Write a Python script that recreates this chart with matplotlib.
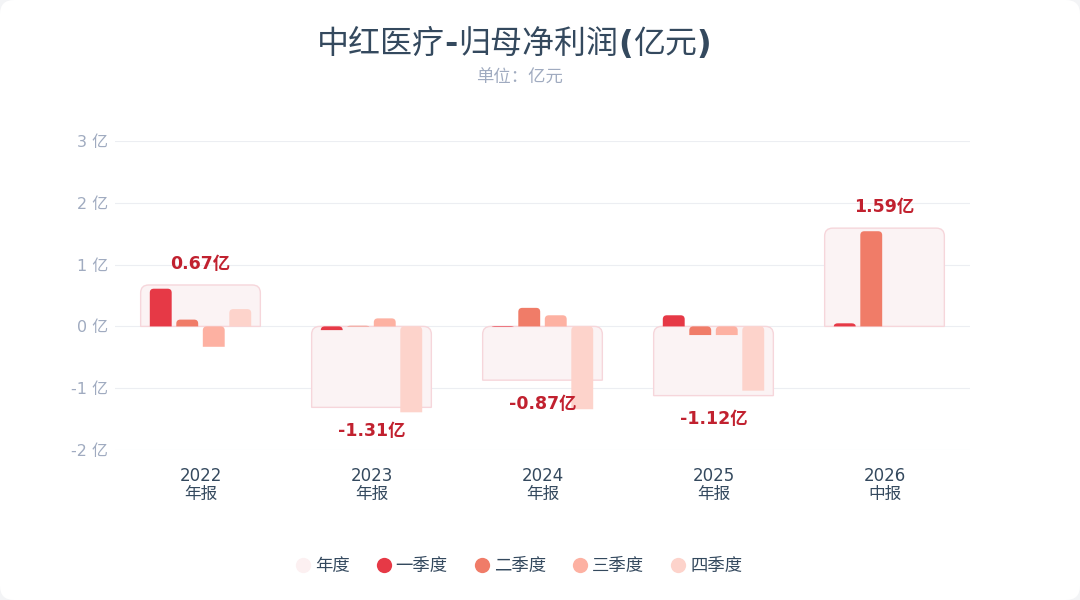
import matplotlib
matplotlib.use("Agg")
import matplotlib.pyplot as plt
import matplotlib.patches as mpatches
from matplotlib.path import Path
from matplotlib.lines import Line2D

plt.rcParams['font.family'] = ['DejaVu Sans', 'Noto Sans CJK SC']

# data (亿元)
years = ["2022", "2023", "2024", "2025", "2026"]
periods = ["年报", "年报", "年报", "年报", "中报"]
annual = [0.67, -1.31, -0.87, -1.12, 1.59]
q1 = [0.61, -0.06, -0.01, 0.18, 0.05]
q2 = [0.11, 0.01, 0.30, -0.14, 1.54]
q3 = [-0.33, 0.13, 0.18, -0.14, 0.0]
q4 = [0.28, -1.39, -1.34, -1.04, 0.0]
y_ticks = [-2, -1, 0, 1, 2, 3]

quarter_names = ["一季度", "二季度", "三季度", "四季度"]
quarter_colors = ["#e63946", "#f07c68", "#fdb1a2", "#fdd3cb"]
box_face = "#fbf3f4"
box_edge = "#f6d6db"
label_color = "#c1212f"
text_dark = "#34495e"
text_grey = "#a0abc0"

fig = plt.figure(figsize=(10.8, 6), dpi=100)
fig.patch.set_facecolor("#f3f4f6")
card = mpatches.FancyBboxPatch((0, 0), 1080, 600, boxstyle="round,pad=0,rounding_size=14",
                               transform=None, facecolor="white", edgecolor="none", zorder=-10)
fig.patches.append(card)

ax = fig.add_axes([115 / 1080, 150 / 600, 855 / 1080, 309 / 600])
ax.set_facecolor("none")
ax.set_xlim(-0.5, len(years) - 0.5)
ax.set_ylim(-2, 3)

bb = ax.get_window_extent()
sx = bb.width / (len(years))
sy = bb.height / 5.0


def round_top_rect(x0, w, val, r_px, **kw):
    top, bot = max(0, val), min(0, val)
    h = top - bot
    rx = min(r_px / sx, w / 2)
    ry = min(r_px / sy, h)
    verts = [(x0, bot), (x0, top - ry), (x0, top), (x0 + rx, top),
             (x0 + w - rx, top), (x0 + w, top), (x0 + w, top - ry),
             (x0 + w, bot), (x0, bot)]
    codes = [Path.MOVETO, Path.LINETO, Path.CURVE3, Path.CURVE3,
             Path.LINETO, Path.CURVE3, Path.CURVE3, Path.LINETO, Path.CLOSEPOLY]
    ax.add_patch(mpatches.PathPatch(Path(verts, codes), **kw))


box_w = 0.70
bar_w = 0.128
step = 0.155
quarters = [q1, q2, q3, q4]

for i, yr in enumerate(years):
    round_top_rect(i - box_w / 2, box_w, annual[i], 8, facecolor=box_face,
                   edgecolor=box_edge, lw=1, zorder=2)
    for k, qv in enumerate(quarters):
        if qv[i] == 0:
            continue
        xc = i + (k - 1.5) * step
        round_top_rect(xc - bar_w / 2, bar_w, qv[i], 4, facecolor=quarter_colors[k],
                       edgecolor="none", zorder=3)
    if annual[i] >= 0:
        ly = annual[i] + 0.34
    else:
        ly = annual[i] - 0.38
    ax.text(i, ly, f"{annual[i]:.2f}亿", ha="center", va="center", fontsize=12.5,
            fontweight="bold", color=label_color, zorder=5)

ax.set_yticks(y_ticks)
ax.set_yticklabels([f"{v} 亿" for v in y_ticks])
ax.set_xticks(range(len(years)))
ax.set_xticklabels([f"{y}\n{p}" for y, p in zip(years, periods)], linespacing=1.0)
ax.tick_params(axis="y", length=0, pad=5, labelsize=11.5, labelcolor=text_grey)
ax.tick_params(axis="x", length=0, pad=12, labelsize=12, labelcolor=text_dark)
ax.grid(axis="y", color="#eceef2", lw=0.8, zorder=0)
ax.set_axisbelow(True)
for s in ax.spines.values():
    s.set_visible(False)

# title: CJK regular, ascii punctuation bold (as in the reference)
title_parts = [("中红医疗", "normal"), ("-", "bold"), ("归母净利润", "normal"),
               ("(", "bold"), ("亿元", "normal"), (")", "bold")]
renderer = fig.canvas.get_renderer()
title_y = 600 - 53
parts = []
for txt, wt in title_parts:
    t = fig.text(0, title_y, txt, ha="left", va="baseline", fontsize=23,
                 fontweight=wt, color=text_dark, transform=None)
    parts.append(t)
widths = [t.get_window_extent(renderer).width for t in parts]
x = 514 - sum(widths) / 2
for t, w in zip(parts, widths):
    t.set_x(x)
    x += w

fig.text(519 / 1080, 1 - 78 / 600, "单位：亿元", ha="center", va="center",
         fontsize=12.5, color=text_grey)

handles = [Line2D([], [], marker="o", ls="none", markersize=11, markerfacecolor="#fcf0f1",
                  markeredgecolor="none", label="年度")]
for name, c in zip(quarter_names, quarter_colors):
    handles.append(Line2D([], [], marker="o", ls="none", markersize=11, markerfacecolor=c,
                          markeredgecolor="none", label=name))
leg = fig.legend(handles=handles, loc="center", bbox_to_anchor=(0.479, 1 - 566 / 600), ncol=5,
                 frameon=False, fontsize=12.5, handletextpad=0.1, columnspacing=1.35,
                 handlelength=1.2)
for t in leg.get_texts():
    t.set_color(text_dark)

fig.savefig("out.png", dpi=100, facecolor=fig.get_facecolor())
